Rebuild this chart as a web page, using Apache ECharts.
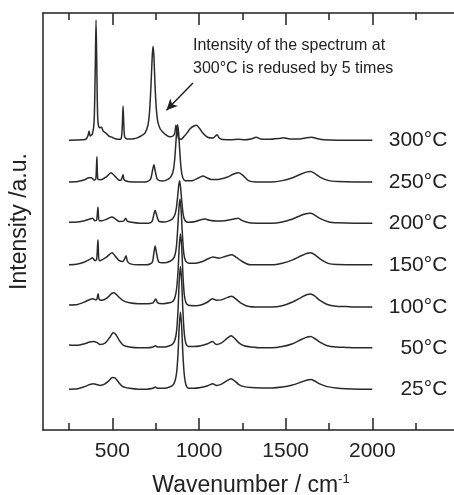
<!DOCTYPE html>
<html>
<head>
<meta charset="utf-8">
<script src="https://cdn.jsdelivr.net/npm/echarts@6/dist/echarts.min.js"></script>
<style>
html,body{margin:0;padding:0;background:#fff;overflow:hidden;}
#chart{width:454px;height:495px;}
</style>
</head>
<body>
<div id="chart"></div>
<script>
// Series names (temperature) and vertical offsets of each spectrum (a.u.)
const seriesNames = ['25°C', '50°C', '100°C', '150°C', '200°C', '250°C', '300°C'];
const offsets = [0.98, 1.97, 2.95, 3.96, 4.96, 5.95, 6.95];

// X axis tick values
const majorTicks = [500, 1000, 1500, 2000];
const minorTicks = [250, 750, 1250, 1750, 2250];

// Spectra: [wavenumber (cm^-1), intensity above own baseline (a.u.)]
const s25 = [[250,0.00],[300,0.01],[340,0.06],[370,0.11],[390,0.13],[410,0.11],[430,0.09],[455,0.12],[480,0.2],[500,0.28],[515,0.27],[535,0.17],[560,0.06],[600,0.02],[650,0.0],[700,0.0],[735,0.02],[748,0.05],[760,0.02],[800,0.02],[830,0.05],[850,0.1],[862,0.2],[871,0.4],[879,0.85],[886,1.5],[893,1.85],[900,1.5],[907,0.85],[915,0.35],[925,0.1],[940,0.02],[970,0.02],[1010,0.04],[1050,0.08],[1080,0.13],[1100,0.09],[1130,0.12],[1160,0.2],[1185,0.25],[1205,0.2],[1230,0.11],[1260,0.06],[1300,0.04],[1360,0.03],[1420,0.03],[1480,0.05],[1540,0.1],[1590,0.17],[1625,0.22],[1645,0.23],[1665,0.2],[1700,0.12],[1740,0.06],[1790,0.03],[1850,0.01],[1920,0.0],[2000,0.0]];
const s50 = [[250,0.07],[300,0.06],[340,0.1],[370,0.14],[390,0.15],[410,0.13],[430,0.08],[460,0.12],[485,0.25],[505,0.36],[520,0.32],[540,0.18],[565,0.06],[600,0.02],[650,0.0],[700,0.0],[735,0.02],[748,0.05],[760,0.02],[800,0.02],[830,0.05],[850,0.1],[862,0.2],[871,0.42],[879,0.9],[886,1.6],[893,1.95],[900,1.6],[907,0.9],[915,0.35],[925,0.1],[940,0.03],[970,0.03],[1010,0.05],[1050,0.1],[1078,0.15],[1100,0.08],[1130,0.12],[1160,0.22],[1185,0.29],[1205,0.23],[1230,0.12],[1260,0.05],[1300,0.02],[1360,0.0],[1420,0.0],[1480,0.03],[1540,0.1],[1590,0.2],[1625,0.26],[1645,0.27],[1665,0.23],[1700,0.13],[1740,0.05],[1790,0.02],[1850,0.01],[1920,0.0],[2000,0.0]];
const s100 = [[250,0.05],[300,0.06],[340,0.12],[370,0.18],[388,0.2],[405,0.17],[412,0.2],[418,0.32],[424,0.18],[440,0.16],[470,0.22],[495,0.32],[510,0.34],[530,0.27],[560,0.16],[600,0.1],[650,0.08],[700,0.08],[735,0.1],[750,0.19],[762,0.1],[790,0.08],[830,0.1],[850,0.14],[862,0.24],[871,0.45],[879,0.85],[886,1.45],[893,1.75],[900,1.45],[907,0.8],[915,0.3],[925,0.1],[940,0.04],[980,0.03],[1020,0.06],[1050,0.12],[1078,0.2],[1100,0.16],[1130,0.17],[1165,0.23],[1190,0.26],[1210,0.2],[1240,0.1],[1280,0.02],[1340,0.0],[1420,0.0],[1480,0.03],[1540,0.12],[1590,0.23],[1625,0.3],[1645,0.31],[1665,0.27],[1700,0.15],[1740,0.06],[1790,0.02],[1850,0.01],[1920,0.0],[2000,0.0]];
const s150 = [[250,0.0],[300,0.02],[340,0.07],[370,0.13],[385,0.17],[400,0.1],[410,0.14],[417,0.6],[424,0.1],[440,0.12],[470,0.2],[498,0.29],[515,0.22],[540,0.1],[560,0.08],[572,0.15],[579,0.22],[586,0.1],[600,0.03],[650,0.0],[700,0.0],[730,0.06],[740,0.3],[747,0.45],[755,0.28],[768,0.07],[800,0.05],[830,0.08],[850,0.14],[862,0.25],[870,0.45],[877,0.85],[884,1.35],[890,1.58],[897,1.3],[904,0.75],[912,0.28],[922,0.1],[940,0.04],[980,0.04],[1020,0.08],[1050,0.14],[1080,0.19],[1115,0.16],[1150,0.2],[1190,0.24],[1215,0.18],[1250,0.08],[1295,0.0],[1360,0.0],[1420,0.0],[1480,0.04],[1540,0.12],[1590,0.22],[1625,0.28],[1645,0.29],[1665,0.25],[1700,0.14],[1750,0.03],[1800,0.01],[1900,0.0],[2000,0.0]];
const s200 = [[250,0.02],[300,0.03],[340,0.06],[370,0.1],[385,0.12],[400,0.06],[410,0.08],[417,0.38],[424,0.06],[440,0.06],[470,0.1],[498,0.15],[515,0.11],[540,0.04],[565,0.05],[577,0.12],[586,0.05],[610,0.02],[660,0.0],[710,0.0],[730,0.05],[740,0.22],[747,0.31],[755,0.2],[768,0.05],[800,0.03],[830,0.06],[850,0.12],[862,0.22],[870,0.38],[877,0.65],[883,0.9],[888,1.02],[894,0.85],[901,0.5],[910,0.18],[920,0.06],[940,0.02],[980,0.04],[1010,0.08],[1035,0.1],[1060,0.07],[1100,0.05],[1150,0.06],[1200,0.1],[1225,0.12],[1250,0.06],[1290,0.01],[1360,0.0],[1420,0.0],[1480,0.03],[1540,0.1],[1590,0.19],[1625,0.23],[1645,0.24],[1665,0.2],[1700,0.11],[1750,0.03],[1800,0.01],[1900,0.0],[2000,0.0]];
const s250 = [[250,0.0],[300,0.01],[340,0.05],[365,0.1],[380,0.1],[395,0.04],[405,0.08],[411,0.6],[417,0.06],[435,0.05],[465,0.12],[492,0.22],[510,0.16],[535,0.05],[550,0.04],[556,0.1],[562,0.17],[568,0.05],[590,0.01],[640,0.0],[690,0.0],[720,0.06],[733,0.3],[740,0.41],[748,0.25],[760,0.06],[790,0.02],[820,0.06],[840,0.14],[852,0.28],[860,0.55],[866,0.9],[871,1.2],[876,1.37],[882,1.2],[888,0.8],[896,0.35],[905,0.12],[920,0.03],[960,0.03],[1000,0.1],[1023,0.14],[1045,0.1],[1070,0.06],[1110,0.06],[1160,0.11],[1200,0.19],[1230,0.22],[1255,0.15],[1285,0.03],[1330,0.0],[1420,0.0],[1480,0.03],[1540,0.1],[1590,0.19],[1625,0.24],[1645,0.25],[1665,0.21],[1700,0.11],[1750,0.03],[1800,0.01],[1900,0.0],[2000,0.0]];
const s300 = [[250,0.0],[330,0.01],[350,0.03],[360,0.12],[366,0.22],[372,0.1],[385,0.15],[395,0.45],[401,1.6],[406,2.88],[411,1.6],[416,0.5],[425,0.3],[437,0.31],[447,0.22],[463,0.17],[480,0.1],[498,0.07],[520,0.03],[545,0.02],[553,0.08],[558,0.4],[562,0.82],[566,0.4],[571,0.08],[585,0.03],[610,0.03],[640,0.05],[665,0.1],[688,0.17],[705,0.35],[715,0.7],[724,1.4],[730,2.0],[735,2.25],[740,2.0],[746,1.35],[753,0.8],[762,0.45],[775,0.28],[790,0.2],[805,0.14],[830,0.08],[850,0.1],[860,0.17],[867,0.36],[873,0.22],[882,0.05],[896,0.02],[912,0.08],[930,0.17],[950,0.28],[970,0.34],[985,0.36],[1000,0.3],[1020,0.18],[1050,0.07],[1080,0.05],[1095,0.1],[1105,0.13],[1115,0.06],[1130,0.02],[1180,0.01],[1230,0.02],[1260,0.01],[1300,0.03],[1330,0.07],[1355,0.03],[1400,0.02],[1460,0.04],[1490,0.06],[1520,0.03],[1580,0.03],[1620,0.06],[1650,0.07],[1680,0.04],[1720,0.01],[1800,0.0],[1900,0.0],[2000,0.0]];

const spectra = [s25, s50, s100, s150, s200, s250, s300];

// Annotation
const noteLines = ['Intensity of the spectrum at', '300°C is redused by 5 times'];
const arrowFrom = [965, 8.32];
const arrowTo = [812, 7.67];

const FONT = '"Liberation Sans", Arial, sans-serif';
const INK = '#222';

const chart = echarts.init(document.getElementById('chart'), null, {renderer: 'canvas'});

const gridBox = {left: 43, right: -5, top: 13, bottom: 65, containLabel: false, outerBoundsMode: 'none'};

function xAx(gridIndex, position, ticks, len, showLine, labels) {
  return {
    type: 'value', gridIndex, position, min: 100, max: 2500,
    axisLine: {show: showLine, onZero: false, lineStyle: {color: INK, width: 1.5}},
    axisTick: {show: true, inside: true, length: len, customValues: ticks, lineStyle: {color: INK, width: 1.5}},
    axisLabel: labels ? {show: true, customValues: ticks, fontSize: 21, color: INK, fontFamily: FONT, margin: 11,
      formatter: v => String(v)} : {show: false},
    splitLine: {show: false}
  };
}

const xMain = xAx(0, 'bottom', majorTicks, 12, true, true);
xMain.name = 'Wavenumber / cm{sup|-1}';
xMain.nameLocation = 'middle';
xMain.nameGap = 43;
xMain.nameTextStyle = {fontSize: 23, color: INK, fontFamily: FONT,
  rich: {sup: {fontSize: 13, color: INK, fontFamily: FONT, verticalAlign: 'top', padding: [0, 0, 12, 0]}}};

const series = spectra.map((s, i) => ({
  type: 'line',
  name: seriesNames[i],
  xAxisIndex: 0, yAxisIndex: 0,
  data: s.map(p => [p[0], p[1] + offsets[i]]),
  showSymbol: false,
  symbol: 'none',
  smooth: 0.25,
  lineStyle: {color: '#2a2a2a', width: 1.5},
  emphasis: {disabled: true},
  endLabel: {show: true, formatter: '{a}', distance: 75, align: 'right', verticalAlign: 'middle',
    fontSize: 21, color: INK, fontFamily: FONT},
  markLine: i === 6 ? {
    silent: true, symbol: ['none', 'arrow'], symbolSize: [8, 11],
    lineStyle: {color: INK, width: 1.5, type: 'solid'},
    label: {show: false},
    data: [[{coord: arrowFrom}, {coord: arrowTo}]]
  } : undefined,
  z: 3
}));

chart.setOption({
  animation: false,
  backgroundColor: '#fff',
  grid: [Object.assign({}, gridBox), Object.assign({}, gridBox)],
  xAxis: [
    xMain,
    xAx(0, 'top', majorTicks, 12, true, false),
    xAx(1, 'bottom', minorTicks, 7, false, false),
    xAx(1, 'top', minorTicks, 7, false, false)
  ],
  yAxis: [
    {type: 'value', gridIndex: 0, min: 0, max: 10, position: 'left',
     axisLine: {show: true, lineStyle: {color: INK, width: 1.5}},
     axisTick: {show: false}, axisLabel: {show: false}, splitLine: {show: false},
     name: 'Intensity /a.u.', nameLocation: 'middle', nameGap: 12,
     nameTextStyle: {fontSize: 23, color: INK, fontFamily: FONT}},
    {type: 'value', gridIndex: 1, min: 0, max: 10, show: false}
  ],
  graphic: [{
    type: 'text', left: 193, top: 34, z: 10,
    style: {text: noteLines.join('\n'), font: '16px ' + FONT, fill: INK, lineHeight: 23}
  }],
  series
});
</script>
</body>
</html>
